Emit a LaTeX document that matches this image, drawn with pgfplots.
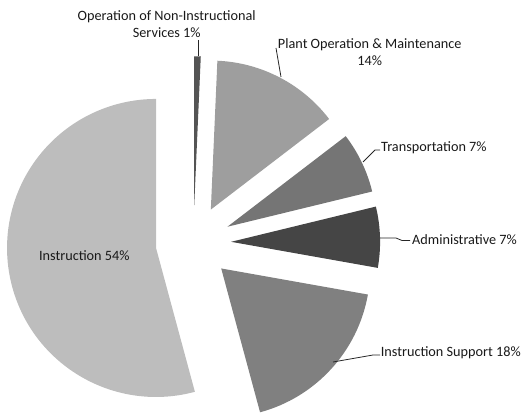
\documentclass[border=0pt]{standalone}
\usepackage{pgfplots}
\pgfplotsset{compat=1.18}
\usepackage{pgfplotstable}
\usepackage{fontspec}
\setmainfont{Carlito}

% shares in percent, clockwise from 12 o'clock; shade = % black
\pgfplotstableread{
name          value shade
NonInstr      0.7   67
Plant         13.9  38
Transport     6.6   54
Admin         6.6   73
InstrSupport  18.0  50
Instruction   54.2  26
}\piedata

\begin{document}
\begin{tikzpicture}
\begin{axis}[
    width=522bp, height=415bp, scale only axis,
    xmin=0, xmax=522, ymin=0, ymax=415,
    hide axis, clip=false,
]
\pgfplotstablegetrowsof{\piedata}
\pgfmathtruncatemacro\N{\pgfplotsretval-1}
\def\acc{90}
\pgfplotsforeachungrouped \i in {0,...,\N}{
    \pgfplotstablegetelem{\i}{value}\of\piedata \let\v\pgfplotsretval
    \pgfplotstablegetelem{\i}{shade}\of\piedata \let\c\pgfplotsretval
    \pgfmathsetmacro\aend{\acc-3.6*\v}
    \pgfmathsetmacro\amid{\acc-1.8*\v}
    \pgfmathsetmacro\ox{193.4+37.7*cos(\amid)}
    \pgfmathsetmacro\oy{172+37.7*sin(\amid)}
    \pgfmathsetmacro\sx{\ox+149*cos(\acc)}
    \pgfmathsetmacro\sy{\oy+149*sin(\acc)}
    \edef\temp{\noexpand\fill[black!\c] (axis cs:\ox,\oy) -- (axis cs:\sx,\sy)
        arc[start angle=\acc, end angle=\aend, radius=149bp] -- cycle;}
    \temp
    \global\let\acc\aend
}

\begin{scope}[font=\fontsize{14.3}{17}\selectfont, text=black!90]
\node[align=center] at (axis cs:166.7,391) {Operation of Non-Instructional\\Services 1\%};
\node[align=center] at (axis cs:369.7,363) {Plant Operation \& Maintenance\\14\%};
\node[anchor=west, inner sep=0pt] at (axis cs:381,267.3) {Transportation 7\%};
\node[anchor=west, inner sep=0pt] at (axis cs:412,175) {Administrative 7\%};
\node[anchor=east, inner sep=0pt] at (axis cs:521,62.7) {Instruction Support 18\%};
\node at (axis cs:84.3,159) {Instruction 54\%};
\end{scope}

\begin{scope}[black!85, line width=0.8pt]
\draw (axis cs:198.3,375) -- (axis cs:198.3,359);
\draw (axis cs:276,367) -- (axis cs:281,338);
\draw (axis cs:363,253) -- (axis cs:375,265) -- (axis cs:380,265);
\draw (axis cs:380,177) -- (axis cs:396,177) -- (axis cs:402,174.5) -- (axis cs:410,174.5);
\draw (axis cs:333,53) -- (axis cs:373,60) -- (axis cs:380,60);
\end{scope}
\end{axis}
\pgfresetboundingbox
\path[use as bounding box] (0,0) rectangle (522bp,415bp);
\end{tikzpicture}
\end{document}
